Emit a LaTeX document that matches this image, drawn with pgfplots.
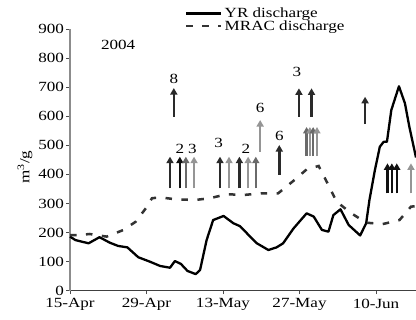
\documentclass[border=0pt]{standalone}
\usepackage{fontspec}
\setmainfont{Liberation Serif}[FakeStretch=1.22]
\usepackage{pgfplots}
\pgfplotsset{compat=1.18}
\usetikzlibrary{arrows.meta}
\newcommand{\cf}{\fontsize{14bp}{16bp}\selectfont}
\definecolor{aA}{HTML}{2A2A2A}
\definecolor{aB}{HTML}{111111}
\definecolor{aM}{HTML}{6A6A6A}
\definecolor{aL}{HTML}{959595}
\tikzset{arr/.style={line width=2.5bp,-{Triangle[length=6.5bp,width=7bp]}}}
\newcommand{\arr}[4]{\draw[arr,#4] (axis cs:#1,#2) -- (axis cs:#1,#3);}
\begin{document}
\begin{tikzpicture}
\begin{axis}[
  at={(0,0)}, anchor=south west,
  scale only axis, width=346bp, height=261.7bp,
  xmin=0, xmax=63.32, ymin=0, ymax=900,
  axis x line*=bottom, axis y line*=left,
  x axis line style={-, draw=black!75, line width=1.3bp},
  y axis line style={-, draw=black!45, line width=1.6bp},
  xtick={0,14,28,42,56},
  xticklabels={15-Apr,29-Apr,13-May,27-May,10-Jun},
  ytick={0,100,...,900},
  tick align=outside, major tick length=3.5bp,
  tick style={black!70, line width=0.9bp},
  /pgf/number format/assume math mode=true,
  tick label style={font=\cf},
  yticklabel style={xshift=1bp},
  xticklabel style={yshift=-1bp},
  clip=false,
  legend style={draw=none, fill=none, at={(115bp,285bp)}, anchor=north west,
    font=\cf, inner sep=0pt, row sep=-2.5bp, cells={anchor=west}},
  legend image code/.code={\draw[#1] (0bp,0bp) -- (35bp,0bp);},
]
\addplot[black, line width=2.3bp, line join=round] coordinates {
(0,186) (1,174) (3.4,163) (5.4,184) (7.3,165) (8.8,154) (10.5,149) (12.5,115)
(14.6,100) (16.5,85) (18.3,79) (19.2,102) (20.3,92) (21.5,68) (23,57) (23.8,71)
(25,174) (26.2,243) (28.1,257) (29.9,232) (31.1,222) (32.4,197) (34.2,163)
(36.3,140) (37.8,149) (39.0,163) (40.9,214) (43.3,266) (44.6,255) (46.1,209)
(47.3,203) (48.2,260) (49.5,280) (51.0,226) (53.1,190) (54.2,232) (54.8,312)
(55.8,415) (56.7,495) (57.4,512) (58.0,512) (58.8,621) (60.2,703) (61.3,644)
(62.1,564) (63.32,458)
};
\addlegendentry{YR discharge}
\addplot[black!80, line width=2.5bp, dash pattern=on 6.5bp off 9.5bp] coordinates {
(0,191) (1.5,191) (3.6,195) (6.7,186) (9.8,209) (12.0,237) (14.1,289) (15.0,318)
(16.5,321) (19.5,314) (22.9,312) (25.6,318) (28.7,332) (31.7,329) (35,335)
(38.1,335) (40.9,378) (43.3,417) (45.5,429) (47.3,363) (48.8,306) (51.5,266)
(54.2,234) (57.2,229) (60.3,243) (62.4,289) (63.32,291)
};
\addlegendentry{MRAC discharge}
% arrows
\arr{19.0}{599}{697}{aA}
\arr{18.3}{352}{461}{aA}
\arr{20.1}{352}{461}{aB}
\arr{21.2}{352}{461}{aM}
\arr{22.7}{352}{461}{aL}
\arr{27.45}{352}{461}{aA}
\arr{29.1}{352}{461}{aL}
\arr{31.0}{352}{461}{aA}
\arr{32.6}{352}{461}{aL}
\arr{34.0}{352}{461}{aM}
\arr{34.8}{478}{587}{aL}
\arr{38.3}{398}{501}{aA}
\arr{41.9}{599}{696}{aA}
\arr{44.2}{599}{696}{aA}
\arr{43.3}{463}{563}{aM}
\arr{43.9}{463}{563}{aL}
\arr{44.5}{463}{563}{aM}
\arr{45.2}{463}{563}{aL}
\arr{54.0}{573}{667}{aA}
\arr{58.1}{335}{438}{aB}
\arr{58.9}{335}{438}{aB}
\arr{59.8}{335}{438}{aB}
\arr{62.4}{335}{438}{aL}
% labels
\node[font=\cf] at (axis cs:19.0,730) {8};
\node[font=\cf] at (axis cs:20.1,487) {2};
\node[font=\cf] at (axis cs:22.4,487) {3};
\node[font=\cf] at (axis cs:27.2,508) {3};
\node[font=\cf] at (axis cs:32.2,489) {2};
\node[font=\cf] at (axis cs:34.8,627) {6};
\node[font=\cf] at (axis cs:38.3,532) {6};
\node[font=\cf] at (axis cs:41.5,753) {3};
\node[font=\cf] at (axis cs:8.8,847) {2004};
\end{axis}
\node[rotate=90, font=\cf] at (-45bp,123.7bp) {m\textsuperscript{3}/g};
\pgfresetboundingbox
\useasboundingbox (-70bp,-29.3bp) rectangle (346bp,290.7bp);
\end{tikzpicture}
\end{document}
